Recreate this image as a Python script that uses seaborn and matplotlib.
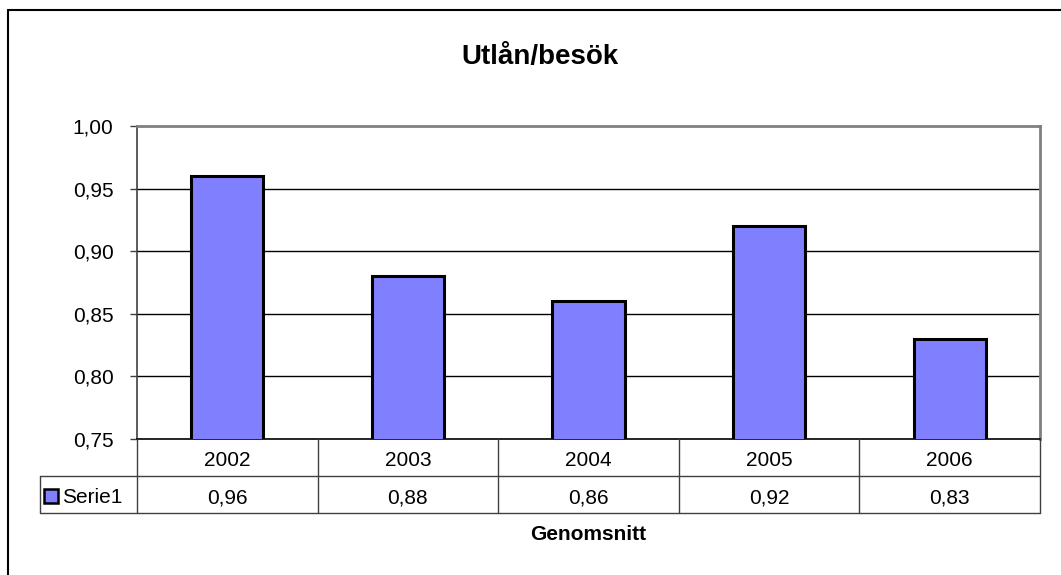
import numpy as np
import pandas as pd
import seaborn as sns
import matplotlib.pyplot as plt
from matplotlib.patches import Rectangle

years = ['2002', '2003', '2004', '2005', '2006']
values = [0.96, 0.88, 0.86, 0.92, 0.83]
series_name = 'Serie1'
y_ticks = [0.75, 0.80, 0.85, 0.90, 0.95, 1.00]

df = pd.DataFrame({'year': years, 'value': values})

sns.set_style("white")
plt.rcParams['font.family'] = ['Liberation Sans', 'DejaVu Sans']
plt.rcParams['text.color'] = 'black'
plt.rcParams['ytick.labelcolor'] = 'black'

W, H = 1061, 575
fig = plt.figure(figsize=(W / 100, H / 100), dpi=100)

def fx(px):
    return px / W

def fy(py):
    return 1 - py / H

# outer chart frame (top and left visible)
fig.add_artist(plt.Line2D([fx(8), fx(1061)], [fy(10), fy(10)], color='black', lw=1.5))
fig.add_artist(plt.Line2D([fx(8), fx(8)], [fy(10), fy(575)], color='black', lw=1.5))

left, right, top, bottom = 137, 1040, 126, 439
ax = fig.add_axes([fx(left), fy(bottom), fx(right - left), (bottom - top) / H])

sns.barplot(data=df, x='year', y='value', color='#8080FF', saturation=1,
            edgecolor='black', linewidth=2.2, width=0.4, ax=ax, zorder=3)

ax.set_ylim(0.75, 1.0)
ax.set_xlim(-0.5, len(years) - 0.5)
ax.set_yticks(y_ticks)
ax.set_yticklabels([f'{v:.2f}'.replace('.', ',') for v in y_ticks], fontsize=15, color='black')
ax.set_xticks([])
ax.set_xlabel('')
ax.set_ylabel('')
ax.tick_params(axis='y', direction='out', length=5, width=1, color='#404040', pad=12, left=True)
for t in y_ticks[1:-1]:
    ax.axhline(t, color='black', lw=1, zorder=1)

ax.spines['top'].set_color('#808080')
ax.spines['top'].set_linewidth(2)
ax.spines['right'].set_color('#808080')
ax.spines['right'].set_linewidth(2)
ax.spines['left'].set_color('#404040')
ax.spines['left'].set_linewidth(1.2)
ax.spines['bottom'].set_color('black')
ax.spines['bottom'].set_linewidth(1.2)

# data table below the plot
row_h = 37
y1, y2, y3 = fy(bottom), fy(bottom + row_h), fy(bottom + 2 * row_h)
tab_left = 40
line_kw = dict(color='#404040', lw=1)
fig.add_artist(plt.Line2D([fx(tab_left), fx(right)], [y2, y2], **line_kw))
fig.add_artist(plt.Line2D([fx(tab_left), fx(right)], [y3, y3], **line_kw))
fig.add_artist(plt.Line2D([fx(tab_left), fx(tab_left)], [y2, y3], **line_kw))
fig.add_artist(plt.Line2D([fx(left), fx(left)], [y1, y3], **line_kw))
col_w = (right - left) / len(years)
for i in range(1, len(years) + 1):
    xb = fx(left + i * col_w)
    fig.add_artist(plt.Line2D([xb, xb], [y1, y3], **line_kw))
for i, (yr, v) in enumerate(zip(years, values)):
    xc = fx(left + (i + 0.5) * col_w)
    fig.text(xc, fy(466), yr, ha='center', va='baseline', fontsize=15, color='black')
    fig.text(xc, fy(503), f'{v:.2f}'.replace('.', ','), ha='center', va='baseline',
             fontsize=15, color='black')

fig.add_artist(Rectangle((fx(44), fy(503)), fx(14), 14 / H, facecolor='#8080FF',
                         edgecolor='black', lw=1.8))
fig.text(fx(62), fy(503), series_name, ha='left', va='baseline', fontsize=15, color='black')

fig.text(fx(540), fy(64), 'Utlån/besök', ha='center', va='baseline', fontsize=20,
         fontweight='bold', color='black')
fig.text(fx((left + right) / 2), fy(540), 'Genomsnitt', ha='center', va='baseline',
         fontsize=15, fontweight='bold', color='black')

fig.savefig('out.png', dpi=100)
